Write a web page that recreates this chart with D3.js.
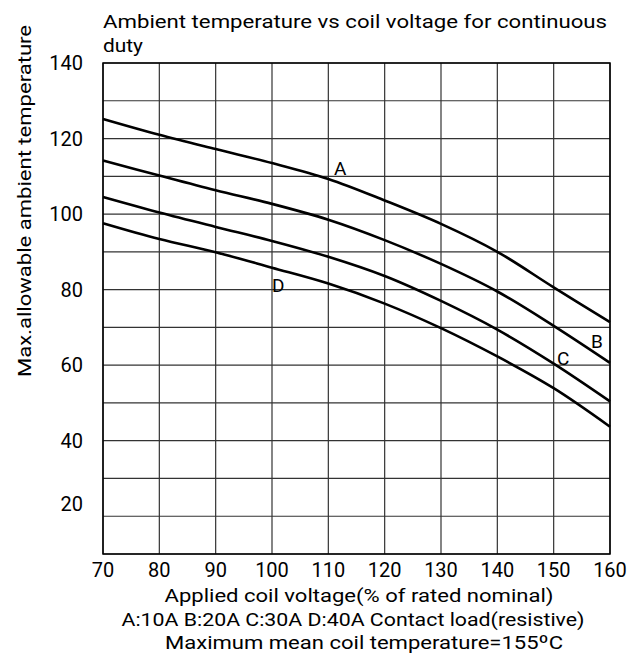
<!DOCTYPE html>
<html>
<head>
<meta charset="utf-8">
<script src="https://cdn.jsdelivr.net/npm/d3@7"></script>
<style>
  body { margin: 0; background: #fff; }
  svg { display: block; font-family: Roboto, "Open Sans", sans-serif; }
</style>
</head>
<body>
<svg id="chart" width="632" height="655"></svg>
<script>
// Applied coil voltage (% of rated nominal)
const voltage = [70, 80, 90, 100, 110, 120, 130, 140, 150, 160];
// Max allowable ambient temperature for each contact load
const curveA = [125.2, 121.0, 117.2, 113.5, 109.3, 103.6, 97.4, 90.0, 80.6, 71.4];
const curveB = [114.2, 110.2, 106.3, 102.7, 98.5, 93.1, 86.8, 79.5, 70.4, 60.6];
const curveC = [104.5, 100.4, 96.6, 92.9, 88.7, 83.6, 77.0, 69.4, 60.4, 50.4];
const curveD = [97.6, 93.4, 89.9, 85.8, 81.6, 76.3, 69.8, 62.3, 53.9, 43.7];
const seriesNames = ['A', 'B', 'C', 'D'];
const xTicks = [70, 80, 90, 100, 110, 120, 130, 140, 150, 160];
const yTicks = [140, 120, 100, 80, 60, 40, 20];
const yGrid = [10, 20, 30, 40, 50, 60, 70, 80, 90, 100, 110, 120, 130, 140];

const svg = d3.select('#chart');
const margin = { top: 63, right: 22, bottom: 101, left: 103 };
const width = 632, height = 655;
const w = width - margin.left - margin.right;
const h = height - margin.top - margin.bottom;

const x = d3.scaleLinear().domain([70, 160]).range([0, w]);
const y = d3.scaleLinear().domain([10, 140]).range([h, 0]);

const g = svg.append('g').attr('transform', `translate(${margin.left},${margin.top})`);

// grid
g.selectAll('.vgrid').data(xTicks).enter().append('line')
  .attr('x1', d => x(d)).attr('x2', d => x(d))
  .attr('y1', 0).attr('y2', h)
  .attr('stroke', '#333').attr('stroke-width', 1.2);
g.selectAll('.hgrid').data(yGrid).enter().append('line')
  .attr('x1', 0).attr('x2', w)
  .attr('y1', d => y(d)).attr('y2', d => y(d))
  .attr('stroke', '#333').attr('stroke-width', 1.2);
g.append('rect').attr('width', w).attr('height', h)
  .attr('fill', 'none').attr('stroke', '#000').attr('stroke-width', 1.5);

// tick labels
g.selectAll('.xt').data(xTicks).enter().append('text')
  .attr('x', d => x(d)).attr('y', h + 23)
  .attr('text-anchor', 'middle').attr('font-size', 20).attr('fill', '#000')
  .text(d => d);
g.selectAll('.yt').data(yTicks).enter().append('text')
  .attr('x', -20).attr('y', d => y(d) + (d === 20 ? -5 : 7))
  .attr('text-anchor', 'end').attr('font-size', 20).attr('fill', '#000')
  .text(d => d);

// curves
const line = d3.line()
  .x(d => x(d[0]))
  .y(d => y(d[1]))
  .curve(d3.curveCatmullRom.alpha(0.5));
[curveA, curveB, curveC, curveD].forEach(vals => {
  g.append('path')
    .datum(voltage.map((v, i) => [v, vals[i]]))
    .attr('d', line)
    .attr('fill', 'none')
    .attr('stroke', '#000')
    .attr('stroke-width', 2.6);
});

// curve labels
const labelAt = { A: [112.1, 112.3], B: [157.7, 66.5], C: [151.7, 62.0], D: [101.1, 81.1] };
seriesNames.forEach(n => {
  g.append('text')
    .attr('x', x(labelAt[n][0])).attr('y', y(labelAt[n][1]) + 7)
    .attr('text-anchor', 'middle').attr('font-size', 19)
    .text(n);
});

// title
svg.append('text').attr('x', 103).attr('y', 28).attr('font-size', 19)
  .attr('textLength', 504).attr('lengthAdjust', 'spacingAndGlyphs')
  .text('Ambient temperature vs coil voltage for continuous');
svg.append('text').attr('x', 103).attr('y', 52).attr('font-size', 19)
  .attr('textLength', 40).attr('lengthAdjust', 'spacingAndGlyphs')
  .text('duty');

// axis titles
svg.append('text')
  .attr('transform', 'translate(31,201) rotate(-90)')
  .attr('text-anchor', 'middle').attr('font-size', 18)
  .attr('textLength', 352).attr('lengthAdjust', 'spacingAndGlyphs')
  .text('Max.allowable ambient temperature');

const notes = [
  ['Applied coil voltage(% of rated nominal)', 359, 602, 389],
  ['A:10A B:20A C:30A D:40A Contact load(resistive)', 353, 626, 463],
  ['Maximum mean coil temperature=155ºC', 364, 649, 398]
];
notes.forEach(nt => {
  svg.append('text')
    .attr('x', nt[1]).attr('y', nt[2])
    .attr('text-anchor', 'middle').attr('font-size', 19)
    .attr('textLength', nt[3]).attr('lengthAdjust', 'spacingAndGlyphs')
    .text(nt[0]);
});
</script>
</body>
</html>
